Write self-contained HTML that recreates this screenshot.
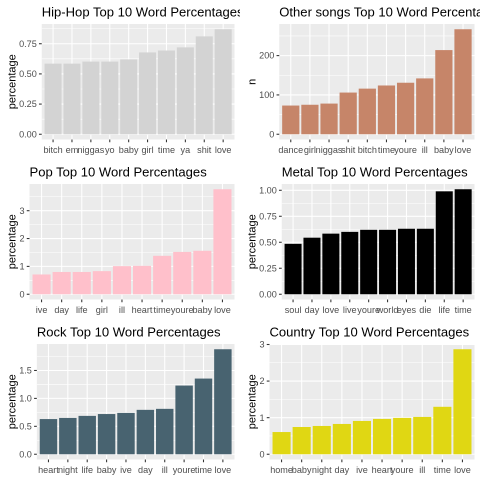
<!DOCTYPE html>
<html>
<head>
<meta charset="utf-8">
<style>
html,body{margin:0;padding:0;background:#fff;width:480px;height:480px;overflow:hidden}
svg{display:block;font-family:"Liberation Sans",Arial,sans-serif}
</style>
</head>
<body>
<svg id="figure" width="480" height="480" viewBox="0 0 480 480" xmlns="http://www.w3.org/2000/svg"></svg>
<script>
const titles = ["Hip-Hop Top 10 Word Percentages","Other songs Top 10 Word Percentages","Pop Top 10 Word Percentages","Metal Top 10 Word Percentages","Rock Top 10 Word Percentages","Country Top 10 Word Percentages"];
const yTitles = ["percentage","n","percentage","percentage","percentage","percentage"];

const hipHopWords = ["bitch","em","niggas","yo","baby","girl","time","ya","shit","love"];
const hipHopValues = [0.585,0.585,0.602,0.602,0.62,0.678,0.694,0.72,0.811,0.87];
const hipHopTicks = ["0.00","0.25","0.50","0.75"];

const otherWords = ["dance","girl","niggas","shit","bitch","time","youre","ill","baby","love"];
const otherValues = [73,75,78,106,116,124,131,142,214,267];
const otherTicks = ["0","100","200"];

const popWords = ["ive","day","life","girl","ill","heart","time","youre","baby","love"];
const popValues = [0.71,0.80,0.80,0.83,1.01,1.02,1.38,1.52,1.56,3.77];
const popTicks = ["0","1","2","3"];

const metalWords = ["soul","day","love","live","youre","world","eyes","die","life","time"];
const metalValues = [0.485,0.544,0.583,0.60,0.62,0.62,0.63,0.63,0.99,1.01];
const metalTicks = ["0.00","0.25","0.50","0.75","1.00"];

const rockWords = ["heart","night","life","baby","ive","day","ill","youre","time","love"];
const rockValues = [0.63,0.65,0.687,0.72,0.74,0.795,0.813,1.23,1.355,1.88];
const rockTicks = ["0.0","0.5","1.0","1.5"];

const countryWords = ["home","baby","night","day","ive","heart","youre","ill","time","love"];
const countryValues = [0.607,0.745,0.773,0.828,0.91,0.966,0.994,1.02,1.297,2.87];
const countryTicks = ["0","1","2","3"];

const barColors = ["#d3d3d3","#c68569","#ffc0cb","#000000","#486370","#e0d713"];
const panelKeys = ["hip-hop","other-songs","pop","metal","rock","country"];
const allWords = [hipHopWords,otherWords,popWords,metalWords,rockWords,countryWords];
const allValues = [hipHopValues,otherValues,popValues,metalValues,rockValues,countryValues];
const allTicks = [hipHopTicks,otherTicks,popTicks,metalTicks,rockTicks,countryTicks];

const NS = "http://www.w3.org/2000/svg";
const figure = document.getElementById("figure");

function make(parent, tag, attrs, text) {
  const el = document.createElementNS(NS, tag);
  for (const k in attrs) el.setAttribute(k, attrs[k]);
  if (text !== undefined) el.textContent = text;
  parent.appendChild(el);
  return el;
}

function drawPanel(i) {
  const key = panelKeys[i];
  const words = allWords[i], values = allValues[i], ticks = allTicks[i];
  const cellX = (i % 2) * 240, cellY = Math.floor(i / 2) * 160;

  const cell = make(figure, "svg", {x: cellX, y: cellY, width: 240, height: 160, viewBox: "0 0 240 160", overflow: "hidden"});
  
  

  // panel left depends on the widest tick label
  const probe = make(cell, "text", {"font-size": 8.8});
  let tickWidth = 0;
  ticks.forEach(function (t) {
    probe.textContent = t;
    tickWidth = Math.max(tickWidth, probe.getComputedTextLength());
  });
  cell.removeChild(probe);

  const left = 24.6 + tickWidth;
  const right = 234.5, top = 24, bottom = 139.5;

  const maxV = Math.max.apply(null, values);
  const span = maxV * 1.1;
  const y = function (v) { return bottom - (v + maxV * 0.05) / span * (bottom - top); };
  const x = function (n) { return left + (n - 0.4) / 10.2 * (right - left); };

  const panel = make(cell, "rect", {x: left, y: top, width: right - left, height: bottom - top, fill: "#ebebeb"});
  
  

  const tickVals = ticks.map(Number);
  const step = tickVals[1] - tickVals[0];
  for (let m = step / 2; m < maxV * 1.05; m += step) {
    const minor = make(cell, "line", {x1: left, x2: right, y1: y(m), y2: y(m), stroke: "#fff", "stroke-width": 0.55});
    
    
  }
  tickVals.forEach(function (v, k) {
    const major = make(cell, "line", {x1: left, x2: right, y1: y(v), y2: y(v), stroke: "#fff", "stroke-width": 1.07});
    
    
    const tick = make(cell, "line", {x1: left - 2.75, x2: left, y1: y(v), y2: y(v), stroke: "#333", "stroke-width": 1.07});
    
    
    const label = make(cell, "text", {x: left - 4.95, y: y(v) + 3.1, "text-anchor": "end", "font-size": 9.1, fill: "#4d4d4d"}, ticks[k]);
    
    
  });

  words.forEach(function (w, k) {
    const n = k + 1;
    const grid = make(cell, "line", {x1: x(n), x2: x(n), y1: top, y2: bottom, stroke: "#fff", "stroke-width": 1.07});
    
    
  });

  words.forEach(function (w, k) {
    const n = k + 1;
    const bar = make(cell, "rect", {x: x(n - 0.45), y: y(values[k]), width: x(n + 0.45) - x(n - 0.45), height: y(0) - y(values[k]), fill: barColors[i]});
    
    
    const tick = make(cell, "line", {x1: x(n), x2: x(n), y1: bottom, y2: bottom + 2.75, stroke: "#333", "stroke-width": 1.07});
    
    
    const label = make(cell, "text", {x: x(n), y: 152.8, "text-anchor": "middle", "font-size": 9.1, fill: "#4d4d4d"}, w);
    
    
  });

  const title = make(cell, "text", {x: left, y: 16.7, "font-size": 13.05, fill: "#000"}, titles[i]);
  
  

  const mid = (top + bottom) / 2;
  const yTitle = make(cell, "text", {x: 0, y: 0, "text-anchor": "middle", "font-size": 11, fill: "#000", transform: "translate(15.5," + mid + ") rotate(-90)"}, yTitles[i]);
  
  
}

panelKeys.forEach(function (_, i) { drawPanel(i); });
</script>
</body>
</html>
